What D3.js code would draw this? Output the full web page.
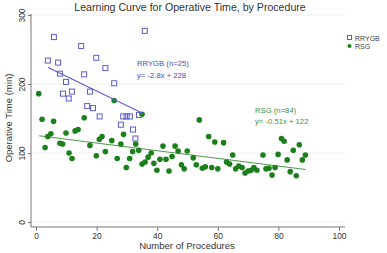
<!DOCTYPE html>
<html>
  <head>
    <meta charset="utf-8">
    <title>Learning Curve for Operative Time</title>
    <script src="https://d3js.org/d3.v7.min.js"></script>
    <style>
      body { margin: 0; background: #fff; }
    </style>
  </head>
  <body>
    <div id="chart"></div>
    <script>
      // RRYGB: procedure number / operative time (min)
      const rrygbX = [5.9, 35.9, 14.9, 3.9, 7.3, 19.9, 22.9, 7.9, 15.9, 9.9, 25.8, 8.9, 11.9,
                      10.8, 17.8, 16.9, 18.8, 21, 28, 28.8, 29.9, 31, 34, 32, 32.8];
      const rrygbY = [268, 277, 255, 234, 231, 238, 223, 215, 214, 203, 201, 186, 189,
                      179, 189, 168, 165, 153, 141, 153, 153, 153, 155, 134, 121];

      // RSG
      const rsgX = [0.9, 2, 3, 3.9, 4.9, 5.8, 7.9, 8.8, 9.9, 10.9, 11.9, 12.9, 13.9, 15.9, 17.8,
                    19.9, 20.9, 21.8, 22.9, 25, 25.8, 26.8, 28, 28.9, 29.8, 30.9, 31.9, 32.9, 33.9,
                    35, 35, 36, 37, 38, 38.9, 39.9, 40.9, 41.9, 42.9, 43.9, 44.9, 45.9, 46.9, 48,
                    48.9, 49.9, 51.9, 52.9, 53.9, 54.9, 55.9, 57, 58, 59, 60, 61.9, 62.9, 63.9,
                    64.9, 65.9, 66.9, 68, 69, 70, 71, 71.9, 72.9, 74.9, 75.9, 76.9, 77.9, 78.9,
                    79.9, 81, 81.9, 82.9, 83.9, 84.9, 85.9, 86.9, 87.9, 88.9];
      const rsgY = [186, 149, 108, 124, 128, 146, 114, 113, 129, 100, 92, 132, 134, 151, 111,
                    96, 120, 124, 102, 118, 176, 92, 113, 127, 79, 92, 102, 113, 104,
                    156, 84, 87, 94, 100, 85, 75, 91, 110, 91, 74, 95, 110, 103, 83,
                    77, 103, 93, 83, 148, 78, 80, 124, 79, 116, 77, 115, 87, 84,
                    97, 77, 81, 79, 71, 74, 75, 79, 75, 97, 77, 78, 68, 79,
                    98, 121, 117, 90, 73, 104, 67, 112, 90, 97];

      // fitted lines (start / end)
      const rrygbFitX = [4, 35.5];
      const rrygbFitY = [224, 157];
      const rsgFitX = [1, 89];
      const rsgFitY = [125, 76];

      const xTicks = [0, 20, 40, 60, 80, 100];
      const yTicks = [0, 100, 200, 300];

      const width = 387, height = 253;
      const blue = "#5b5bc8", green = "#1b7f1b";

      const svg = d3.select("#chart").append("svg")
                    .attr("width", width)
                    .attr("height", height)
                    .style("font-family", "Liberation Sans, Arial, sans-serif");

      const xScale = d3.scaleLinear().domain([0, 100]).range([36, 339]);
      const yScale = d3.scaleLinear().domain([0, 300]).range([222, 15]);

      // grid
      svg.append("g")
         .selectAll("line")
         .data(yTicks)
         .join("line")
         .attr("x1", 31)
         .attr("x2", 345)
         .attr("y1", d => yScale(d))
         .attr("y2", d => yScale(d))
         .attr("stroke", "#eaeaea")
         .attr("stroke-width", 0.8);

      // axes
      const xAxis = svg.append("g")
                       .attr("transform", "translate(0,227)")
                       .call(d3.axisBottom(xScale).tickValues(xTicks).tickSize(4).tickSizeOuter(0));
      xAxis.select(".domain").attr("d", "M31,0H345").attr("stroke", "#777");
      xAxis.selectAll(".tick line").attr("stroke", "#777");
      xAxis.selectAll(".tick text")
           .attr("fill", "#333")
           .attr("font-size", 8.5)
           .attr("dy", "0.6em");

      const yAxis = svg.append("g")
                       .attr("transform", "translate(31,0)")
                       .call(d3.axisLeft(yScale).tickValues(yTicks).tickSize(3).tickSizeOuter(0));
      yAxis.select(".domain").attr("d", "M0,14V227").attr("stroke", "#777");
      yAxis.selectAll(".tick line").attr("stroke", "#777");
      yAxis.selectAll(".tick text")
           .attr("fill", "#333")
           .attr("font-size", 8.5)
           .attr("x", 0)
           .attr("dy", 0)
           .attr("text-anchor", "middle")
           .attr("transform", "translate(-6,0) rotate(-90)");

      svg.append("text")
         .attr("x", 187)
         .attr("y", 249)
         .attr("text-anchor", "middle")
         .attr("font-size", 9.5)
         .attr("fill", "#333")
         .text("Number of Procedures");

      svg.append("text")
         .attr("transform", "translate(12,118) rotate(-90)")
         .attr("text-anchor", "middle")
         .attr("font-size", 9.5)
         .attr("fill", "#333")
         .text("Operative Time (min)");

      // title
      svg.append("text")
         .attr("x", 190)
         .attr("y", 11)
         .attr("text-anchor", "middle")
         .attr("font-size", 10.6)
         .attr("fill", "#333")
         .text("Learning Curve for Operative Time, by Procedure");

      // fit lines
      svg.append("line")
         .attr("x1", xScale(rsgFitX[0])).attr("y1", yScale(rsgFitY[0]))
         .attr("x2", xScale(rsgFitX[1])).attr("y2", yScale(rsgFitY[1]))
         .attr("stroke", "#4f9a4f")
         .attr("stroke-width", 1.1);

      // points
      svg.append("g")
         .selectAll("circle")
         .data(rsgX.map((x, i) => [x, rsgY[i]]))
         .join("circle")
         .attr("cx", d => xScale(d[0]))
         .attr("cy", d => yScale(d[1]))
         .attr("r", 2.8)
         .attr("fill", green);

      const sq = 5;
      svg.append("g")
         .selectAll("rect")
         .data(rrygbX.map((x, i) => [x, rrygbY[i]]))
         .join("rect")
         .attr("x", d => xScale(d[0]) - sq / 2)
         .attr("y", d => yScale(d[1]) - sq / 2)
         .attr("width", sq)
         .attr("height", sq)
         .attr("fill", "none")
         .attr("stroke", blue)
         .attr("stroke-width", 1);

      svg.append("line")
         .attr("x1", xScale(rrygbFitX[0])).attr("y1", yScale(rrygbFitY[0]))
         .attr("x2", xScale(rrygbFitX[1])).attr("y2", yScale(rrygbFitY[1]))
         .attr("stroke", "#5a5ad2")
         .attr("stroke-width", 1.1);

      // annotations
      const ann = [
        {x: 137, y: 66, t: "RRYGB (n=25)", c: "#4a4ac4"},
        {x: 137, y: 78, t: "y= -2.8x + 228", c: "#4a4ac4"},
        {x: 255, y: 113, t: "RSG (n=84)", c: "#3f8f3f"},
        {x: 255, y: 124, t: "y= -0.51x + 122", c: "#3f8f3f"}
      ];
      svg.append("g")
         .selectAll("text")
         .data(ann)
         .join("text")
         .attr("x", d => d.x)
         .attr("y", d => d.y)
         .attr("font-size", 7.7)
         .attr("fill", d => d.c)
         .text(d => d.t);

      // legend
      svg.append("rect")
         .attr("x", 347.5).attr("y", 35.5)
         .attr("width", 4).attr("height", 4)
         .attr("fill", "none").attr("stroke", blue).attr("stroke-width", 1);
      svg.append("circle")
         .attr("cx", 349.5).attr("cy", 46)
         .attr("r", 2).attr("fill", green);
      svg.append("text")
         .attr("x", 355).attr("y", 40.5)
         .attr("font-size", 7).attr("fill", "#444")
         .text("RRYGB");
      svg.append("text")
         .attr("x", 355).attr("y", 49)
         .attr("font-size", 7).attr("fill", "#444")
         .text("RSG");
    </script>
  </body>
</html>
